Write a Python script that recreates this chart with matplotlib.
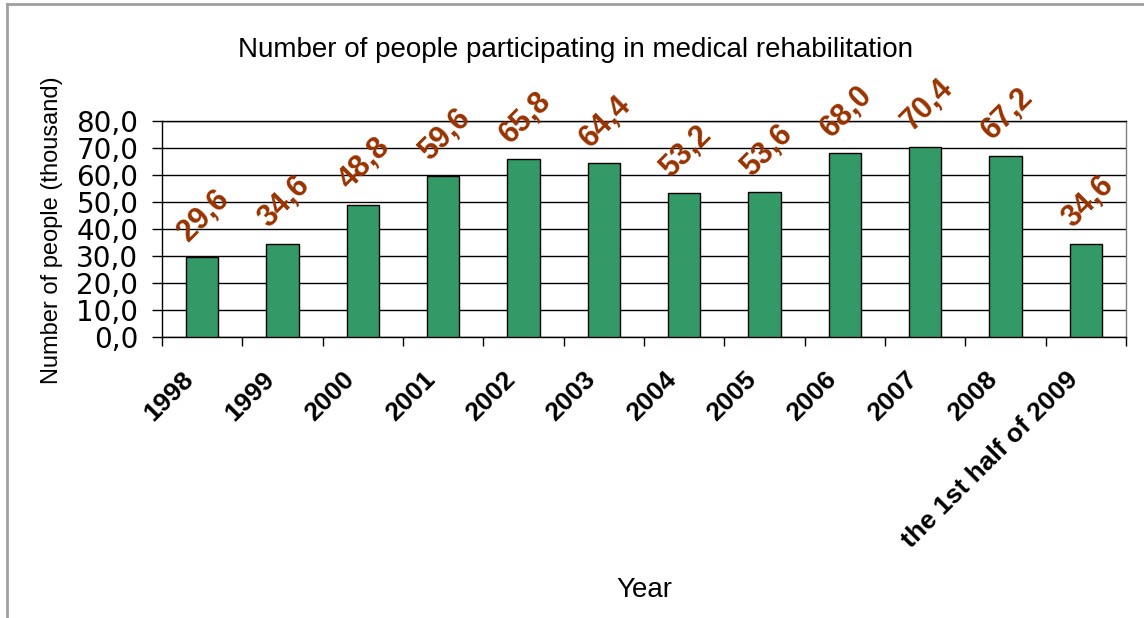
import matplotlib
matplotlib.use('Agg')
from matplotlib import pyplot as plt
from matplotlib.lines import Line2D
from matplotlib.ticker import FuncFormatter, MultipleLocator
import matplotlib.transforms as mtransforms

years = ['1998', '1999', '2000', '2001', '2002', '2003', '2004', '2005',
         '2006', '2007', '2008', 'the 1st half of 2009']
participants = [29.6, 34.6, 48.8, 59.6, 65.8, 64.4, 53.2, 53.6, 68.0, 70.4, 67.2, 34.6]

BAR_GREEN = '#339966'
LABEL_BROWN = '#993300'


def comma_fmt(value, pos=None):
    return f'{value:.1f}'.replace('.', ',')


plt.rcParams['font.family'] = ['Liberation Sans', 'DejaVu Sans']

fig = plt.figure(figsize=(11.44, 6.18), dpi=100)
ax = fig.add_axes([162 / 1144, 1 - 337 / 618, 964 / 1144, 216 / 618])

positions = list(range(len(years)))
ax.bar(positions, participants, width=0.4, color=BAR_GREEN, edgecolor='black',
       linewidth=1.0, zorder=3)

for x, value in zip(positions, participants):
    ax.annotate(comma_fmt(value), (x, value), xytext=(1.5, 30), textcoords='offset points',
                ha='center', va='center', rotation=45, fontsize=22, fontweight='bold',
                color=LABEL_BROWN, zorder=4)

ax.set_xlim(-0.5, len(years) - 0.5)
ax.set_ylim(0, 80)
ax.yaxis.set_major_locator(MultipleLocator(10))
ax.yaxis.set_major_formatter(FuncFormatter(comma_fmt))
ax.grid(axis='y', color='black', linewidth=1.0, zorder=0)
ax.set_axisbelow(True)

# the value axis labels are drawn wider than the rest, DejaVu gets that look
ax.tick_params(axis='y', direction='out', length=7, width=1, pad=10,
               labelsize=20, labelfontfamily='DejaVu Sans')

# category boundaries get the tick marks, labels sit at the centres
ax.set_xticks([p - 0.5 for p in positions] + [len(years) - 0.5], minor=True)
ax.tick_params(axis='x', which='minor', direction='out', length=6.5, width=1)
ax.set_xticks(positions)
ax.set_xticklabels(years, fontsize=19, fontweight='bold')
ax.tick_params(axis='x', which='major', length=0, pad=28)
shift = mtransforms.ScaledTranslation(-12 / 100, 0, fig.dpi_scale_trans)
for lbl in ax.get_xticklabels():
    lbl.set_rotation(45)
    lbl.set_ha('right')
    lbl.set_va('center')
    lbl.set_rotation_mode('anchor')
    lbl.set_transform(lbl.get_transform() + shift)

for side in ['left', 'bottom', 'top']:
    ax.spines[side].set_color('black')
    ax.spines[side].set_linewidth(1.0)
ax.spines['right'].set_color('#808080')
ax.spines['right'].set_linewidth(1.0)

fig.text(576 / 1144, 1 - 57 / 618, 'Number of people participating in medical rehabilitation',
         ha='center', va='baseline', fontsize=20)
fig.text(52 / 1144, 1 - 230 / 618, 'Number of people (thousand)', rotation=90,
         ha='center', va='center', fontsize=17)
fig.text(644 / 1144, 1 - 597 / 618, 'Year', ha='center', va='baseline', fontsize=20)

# grey chart frame (left and top edges visible)
fig.add_artist(Line2D([7 / 1144, 7 / 1144], [0, 1 - 4 / 618], color='#a0a0a0',
                      linewidth=2, transform=fig.transFigure))
fig.add_artist(Line2D([7 / 1144, 1], [1 - 4 / 618, 1 - 4 / 618], color='#a0a0a0',
                      linewidth=2, transform=fig.transFigure))

fig.savefig('out.png', dpi=100)
